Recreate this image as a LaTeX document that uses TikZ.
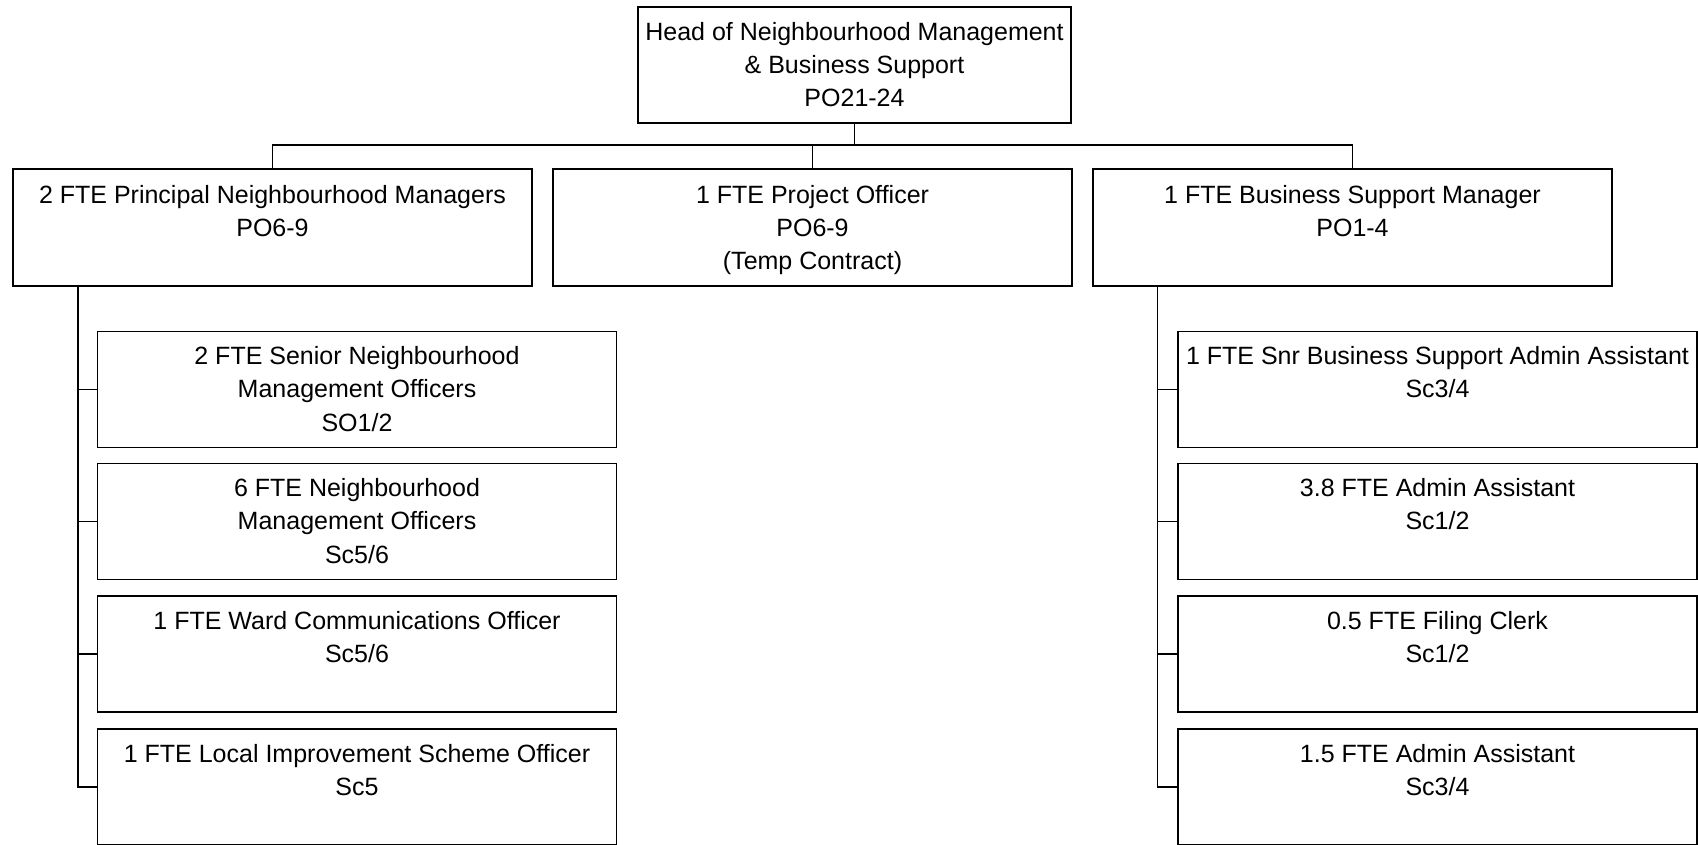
\documentclass[tikz,border=0pt]{standalone}
\usepackage{fontspec}
\setmainfont{Liberation Sans}
\newcommand\fstrut{\rule{0pt}{20bp}}
\tikzset{
  box/.style={draw, line width=1.7bp, rectangle, inner sep=0pt, outer sep=0pt,
              minimum width=519bp, minimum height=116bp},
  lbl/.style={anchor=north, align=center, inner sep=0pt, outer sep=0pt,
              font=\fontsize{25bp}{33.3bp}\selectfont},
  conn/.style={line width=1.7bp}
}
\begin{document}
\begin{tikzpicture}[x=1bp,y=-1bp]
\useasboundingbox (0,0) rectangle (1698,845);
% boxes
\node[box, minimum width=433bp] (head) at (854.5,65) {};
\node[box, minimum height=117bp] (pnm) at (272.5,227.5) {};
\node[box, minimum height=117bp] (po) at (812.5,227.5) {};
\node[box, minimum height=117bp] (bsm) at (1352.5,227.5) {};
\node[box] (l1) at (357,389.5) {};
\node[box] (l2) at (357,521.5) {};
\node[box] (l3) at (357,654) {};
\node[box] (l4) at (357,787) {};
\node[box] (r1) at (1437.5,389.5) {};
\node[box] (r2) at (1437.5,521.5) {};
\node[box] (r3) at (1437.5,654) {};
\node[box] (r4) at (1437.5,787) {};
% labels
\node[lbl] (thead) at ([yshift=-13bp]head.north) {\fstrut Head of Neighbourhood Management\\ \& Business Support\\ PO21-24};
\node[lbl] (tpnm) at ([yshift=-14bp]pnm.north) {\fstrut 2 FTE Principal Neighbourhood Managers\\ PO6-9};
\node[lbl] (tpo) at ([yshift=-14bp]po.north) {\fstrut 1 FTE Project Officer\\ PO6-9\\ (Temp Contract)};
\node[lbl] (tbsm) at ([yshift=-14bp]bsm.north) {\fstrut 1 FTE Business Support Manager\\ PO1-4};
\node[lbl] (tl1) at ([yshift=-13bp]l1.north) {\fstrut 2 FTE Senior Neighbourhood\\ Management Officers\\ SO1/2};
\node[lbl] (tl2) at ([yshift=-13bp]l2.north) {\fstrut 6 FTE Neighbourhood\\ Management Officers\\ Sc5/6};
\node[lbl] (tl3) at ([yshift=-13bp]l3.north) {\fstrut 1 FTE Ward Communications Officer\\ Sc5/6};
\node[lbl] (tl4) at ([yshift=-13bp]l4.north) {\fstrut 1 FTE Local Improvement Scheme Officer\\ Sc5};
\node[lbl] (tr1) at ([yshift=-13bp]r1.north) {\fstrut 1 FTE Snr Business Support Admin Assistant\\ Sc3/4};
\node[lbl] (tr2) at ([yshift=-13bp]r2.north) {\fstrut 3.8 FTE Admin Assistant\\ Sc1/2};
\node[lbl] (tr3) at ([yshift=-13bp]r3.north) {\fstrut 0.5 FTE Filing Clerk\\ Sc1/2};
\node[lbl] (tr4) at ([yshift=-13bp]r4.north) {\fstrut 1.5 FTE Admin Assistant\\ Sc3/4};
% connectors
\coordinate (bar) at (0,145);
\coordinate (lt) at (78,286);
\coordinate (rt) at (1157.5,286);
\draw[conn] (head.south) -- (head.south |- bar);
\draw[conn] (pnm.north) -- (pnm.north |- bar) -- (bsm.north |- bar) -- (bsm.north);
\draw[conn] (po.north) -- (po.north |- bar);
\draw[conn] (lt) |- (l4.west);
\foreach \c in {l1,l2,l3} \draw[conn] (\c.west) -- (\c.west -| lt);
\draw[conn] (rt) |- (r4.west);
\foreach \c in {r1,r2,r3} \draw[conn] (\c.west) -- (\c.west -| rt);
\end{tikzpicture}
\end{document}
